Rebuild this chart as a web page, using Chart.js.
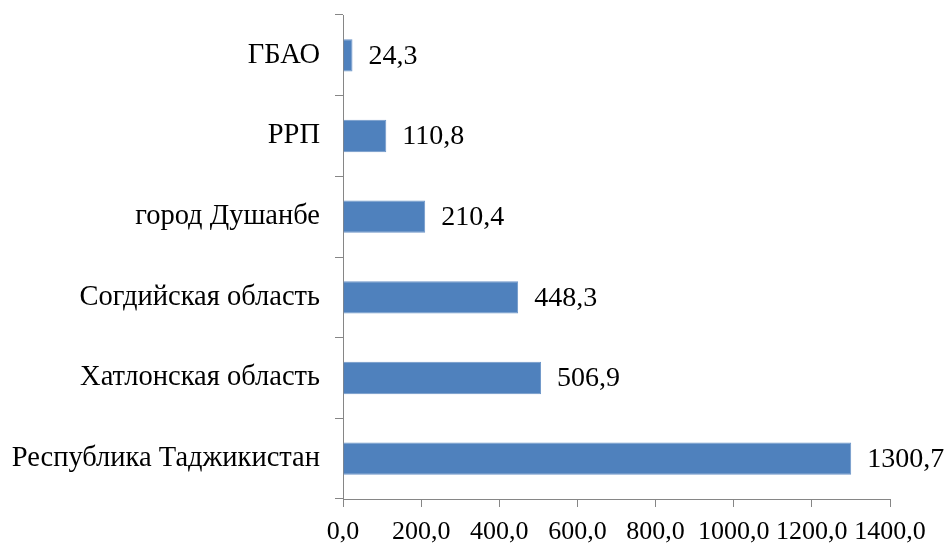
<!DOCTYPE html>
<html>
<head>
<meta charset="utf-8">
<script src="https://cdn.jsdelivr.net/npm/chart.js@4/dist/chart.umd.min.js"></script>
<style>
  html, body { margin: 0; padding: 0; background: #ffffff; }
  #wrap { width: 944px; height: 545px; position: relative; }
</style>
</head>
<body>
<div id="wrap"><canvas id="c" width="944" height="545"></canvas></div>
<script>
// Regions, listed top to bottom as they appear on the axis
const regions = ['ГБАО', 'РРП', 'город Душанбе', 'Согдийская область', 'Хатлонская область', 'Республика Таджикистан'];
const values = [24.3, 110.8, 210.4, 448.3, 506.9, 1300.7];
const xTicks = [0, 200, 400, 600, 800, 1000, 1200, 1400];

const SERIF = "'Liberation Serif', 'Times New Roman', serif";
const AXIS_GREY = '#868686';
const BAR_BLUE = '#4F81BD';

const fmt = v => v.toFixed(1).replace('.', ',');

// Writes each bar's value just past its end
const valueLabels = {
  id: 'valueLabels',
  afterDatasetsDraw(chart) {
    const ctx = chart.ctx;
    const meta = chart.getDatasetMeta(0);
    ctx.save();
    ctx.font = '28px ' + SERIF;
    ctx.fillStyle = '#000000';
    ctx.textAlign = 'left';
    ctx.textBaseline = 'middle';
    meta.data.forEach((bar, i) => {
      ctx.fillText(fmt(chart.data.datasets[0].data[i]), bar.x + 16, bar.y + 1);
    });
    ctx.restore();
  }
};

new Chart(document.getElementById('c'), {
  type: 'bar',
  data: {
    labels: regions,
    datasets: [{
      data: values,
      backgroundColor: BAR_BLUE,
      borderColor: '#6E96C8',
      borderWidth: 1,
      barPercentage: 0.4,
      categoryPercentage: 1.0
    }]
  },
  options: {
    indexAxis: 'y',
    responsive: false,
    animation: false,
    layout: { padding: { top: 15, right: 54, bottom: 0, left: 0 } },
    plugins: {
      legend: { display: false },
      tooltip: { enabled: false }
    },
    scales: {
      x: {
        type: 'linear',
        min: 0,
        max: 1400,
        afterBuildTicks(scale) { scale.ticks = xTicks.map(v => ({ value: v })); },
        afterFit(scale) { scale.height = 46; },
        grid: { drawOnChartArea: false, drawTicks: true, tickLength: 8, color: AXIS_GREY, lineWidth: 1 },
        border: { color: AXIS_GREY, width: 1 },
        ticks: {
          color: '#000000',
          font: { family: SERIF, size: 26 },
          padding: 10,
          maxRotation: 0,
          autoSkip: false,
          callback: v => fmt(v)
        }
      },
      y: {
        afterFit(scale) {
          scale.width = 343;
          scale.paddingTop = 0;
          scale.paddingBottom = 0;
        },
        grid: { drawOnChartArea: false, drawTicks: true, tickLength: 8, color: AXIS_GREY, lineWidth: 1, offset: true },
        border: { color: AXIS_GREY, width: 1 },
        ticks: {
          color: '#000000',
          font: { family: SERIF, size: 28.5 },
          padding: 15,
          autoSkip: false
        }
      }
    }
  },
  plugins: [valueLabels]
});
</script>
</body>
</html>
